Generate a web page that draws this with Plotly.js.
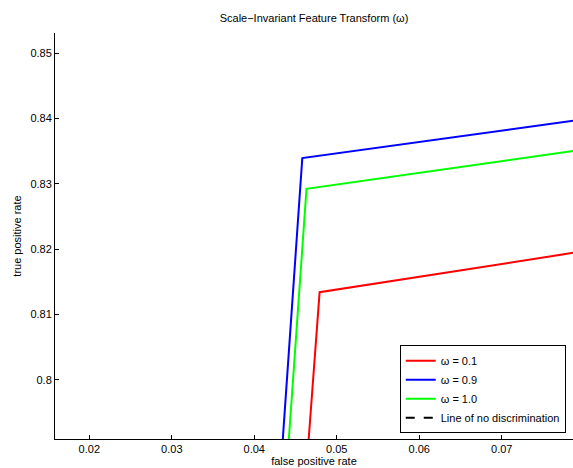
<!DOCTYPE html>
<html>
<head>
<meta charset="utf-8">
<script src="https://cdn.plot.ly/plotly-3.0.1.min.js"></script>
<style>html,body{margin:0;padding:0;background:#fff;}#chart{width:573px;height:468px;}</style>
</head>
<body>
<div id="chart"></div>
<script>
// ROC curves: (0,0) -> operating point -> (1,1)
const seriesNames = ["ω = 0.1", "ω = 0.9", "ω = 1.0", "Line of no discrimination"];
const seriesColors = ["#ff0000", "#0000ff", "#00ff00", "#000000"];
const fpr01 = [0, 0.04792, 1];
const tpr01 = [0, 0.8134, 1];
const fpr09 = [0, 0.04582, 1];
const tpr09 = [0, 0.83392, 1];
const fpr10 = [0, 0.04633, 1];
const tpr10 = [0, 0.82922, 1];
const fprDiag = [0, 1];
const tprDiag = [0, 1];
const xTicks = [0.02, 0.03, 0.04, 0.05, 0.06, 0.07];
const yTicks = [0.80, 0.81, 0.82, 0.83, 0.84, 0.85];
const yTickText = ["0.8", "0.81", "0.82", "0.83", "0.84", "0.85"];

const xs = [fpr01, fpr09, fpr10, fprDiag];
const ys = [tpr01, tpr09, tpr10, tprDiag];
const traces = xs.map((x, i) => ({
  x: x, y: ys[i], type: "scatter", mode: "lines", name: seriesNames[i],
  line: {color: seriesColors[i], width: 2, dash: i === 3 ? "dash" : "solid"},
  cliponaxis: true
}));

const font = {family: "Liberation Sans, Arial, Helvetica, sans-serif", size: 11, color: "#000"};
const layout = {
  width: 573, height: 468,
  margin: {l: 55, r: 0, t: 33, b: 29, pad: 0},
  paper_bgcolor: "#fff", plot_bgcolor: "#fff",
  font: font,
  showlegend: true,
  title: {text: "Scale−Invariant Feature Transform (ω)", font: {family: font.family, size: 11, color: "#000"},
          x: 0.548, xanchor: "center", y: 0.962, yanchor: "middle"},
  xaxis: {
    range: [0.01584, 0.07864], tickvals: xTicks, ticktext: xTicks.map(v => v.toFixed(2)),
    ticks: "inside", ticklen: 4, tickcolor: "#000", tickwidth: 1,
    showline: true, linecolor: "#000", linewidth: 1, showgrid: false, zeroline: false,
    title: {text: "false positive rate", font: {size: 11}, standoff: 2},
    tickfont: {size: 11}
  },
  yaxis: {
    range: [0.79094, 0.85306], tickvals: yTicks, ticktext: yTickText,
    ticks: "inside", ticklen: 4, tickcolor: "#000", tickwidth: 1,
    showline: true, linecolor: "#000", linewidth: 1, showgrid: false, zeroline: false,
    title: {text: "true positive rate", font: {size: 11}, standoff: 6},
    tickfont: {size: 11}
  },
  legend: {
    x: 0.986, y: 0.014, xanchor: "right", yanchor: "bottom",
    bgcolor: "#fff", bordercolor: "#000", borderwidth: 1,
    font: {size: 11}, itemwidth: 30, tracegroupgap: 0
  }
};
Plotly.newPlot("chart", traces, layout, {displayModeBar: false, staticPlot: true});
</script>
</body>
</html>
